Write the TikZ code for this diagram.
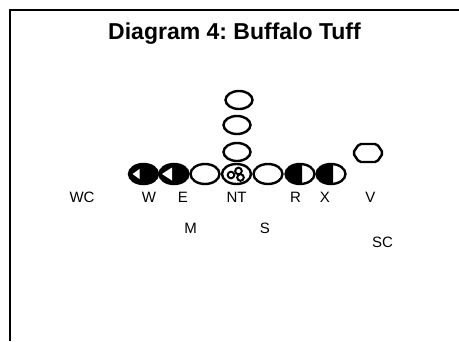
\documentclass[tikz,border=0pt]{standalone}
\usepackage{fontspec}
\setmainfont{Liberation Sans}
\usetikzlibrary{shapes.geometric}
\begin{document}
\frenchspacing
\begin{tikzpicture}[x=1pt,y=-1pt,
  player/.style={draw=black,line width=2.4pt,ellipse,minimum width=29pt,minimum height=20pt,inner sep=0pt,fill=white},
  lbl/.style={font=\fontsize{15}{15}\selectfont,inner sep=0pt,anchor=center},
  ttl/.style={font=\bfseries\fontsize{23}{23}\selectfont,inner sep=0pt}]
\useasboundingbox (0,0) rectangle (459,341);
\fill[white] (0,0) rectangle (459,341);
\coordinate (fa) at (10,341);
\coordinate (fb) at (10,10);
\coordinate (fc) at (459,10);
\draw[line width=2pt] (fa) -- (fb) -- (fc);
\node[ttl] (title) at (234.5,34) {Diagram 4: Buffalo Tuff};
% column
\node[player,minimum width=27pt,minimum height=18pt] (b1) at (239,100) {};
\node[player,minimum width=27pt,minimum height=18pt] (b2) at (237,125) {};
\node[player,minimum width=27pt,minimum height=18pt] (b3) at (237,152) {};
% line
\node[player,fill=black] (pw) at (143.5,174) {};
\fill[white] (pw.center) ++(-11,0) -- ++(7,-5) -- ++(0,10) -- cycle;
\node[player,fill=black] (pe) at (174,174) {};
\fill[white] (pe.center) ++(-12,0) -- ++(10,-6.5) -- ++(0,13) -- cycle;
\node[player] (pg) at (205,174) {};
\node[player] (pnt) at (236.5,174) {};
\draw[line width=2pt,fill=white] (pnt.center) ++(-5.5,1) circle (3.3);
\draw[line width=2pt,fill=white] (pnt.center) ++(2,-3) circle (3.3);
\draw[line width=2pt,fill=white] (pnt.center) ++(4,3.5) circle (3.3);
\node[player] (pt) at (268,174) {};
\node[player] (pr) at (300,174) {};
\begin{scope}
\clip (284,160) rectangle (302,188);
\fill[black] (pr.center) ellipse (14.5 and 10);
\end{scope}
\node[player] (px) at (331,174) {};
\begin{scope}
\clip (315,160) rectangle (333,188);
\fill[black] (px.center) ellipse (14.5 and 10);
\end{scope}
\coordinate (pv) at (368,153);
\draw[line width=2.4pt,rounded corners=2pt] (pv) ++(-15,0) -- ++(6,-9) -- ++(18,0) -- ++(6,9) -- ++(-6,9) -- ++(-18,0) -- cycle;
% labels
\node[lbl] (lwc) at (82,197) {WC};
\node[lbl] (lw) at (149,197) {W};
\node[lbl] (le) at (183,197) {E};
\node[lbl] (lnt) at (236.5,197) {NT};
\node[lbl] (lr) at (295.5,197) {R};
\node[lbl] (lx) at (325,197) {X};
\node[lbl] (lv) at (370.5,197) {V};
\node[lbl] (lm) at (190.5,228) {M};
\node[lbl] (ls) at (265,228) {S};
\node[lbl] (lsc) at (382.5,242) {SC};
\end{tikzpicture}
\end{document}
